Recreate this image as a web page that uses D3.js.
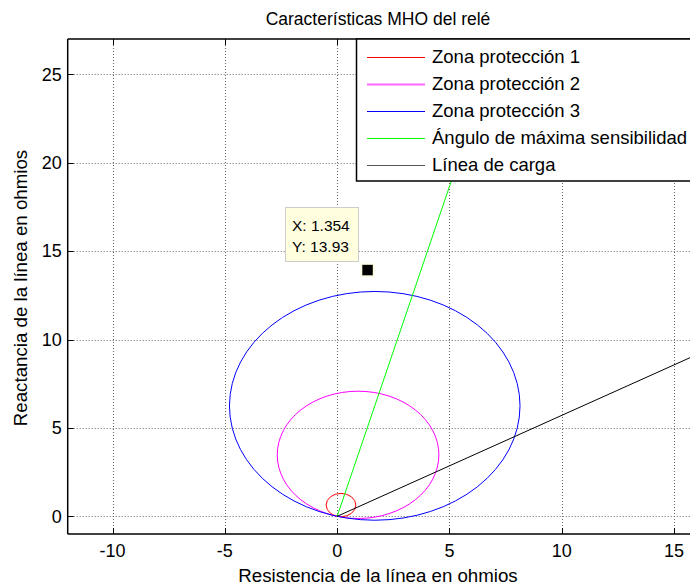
<!DOCTYPE html>
<html>
<head>
<meta charset="utf-8">
<script src="https://cdn.jsdelivr.net/npm/d3@7"></script>
<style>
  body { margin: 0; background: #fff; }
  svg { display: block; font-family: "Liberation Sans", Arial, sans-serif; }
</style>
</head>
<body>
<div id="chart"></div>
<script>
// MHO zones: diameter (ohm) along the angle of maximum sensitivity
let zoneNames = ["Zona protección 1", "Zona protección 2", "Zona protección 3"];
let zoneReach = [1.32, 7.2, 12.94];
let zoneColors = ["#ff0000", "#ff00ff", "#0000ff"];
let maxSensAngle = 75;

// straight lines, [R, X] points
let sensLine = [[0, 0], [7.4, 27.6]];
let loadLine = [[0, 0], [16.5, 9.42]];

let legendNames = ["Zona protección 1", "Zona protección 2", "Zona protección 3", "Ángulo de máxima sensibilidad", "Línea de carga"];
let legendColors = ["#ff0000", "#ff66ff", "#0000ff", "#00ff00", "#555555"];

let xTicks = [-10, -5, 0, 5, 10, 15];
let yTicks = [0, 5, 10, 15, 20, 25];

let dataTip = {x: 1.354, y: 13.93};

let width = 690, height = 585;
let pLeft = 67.7, pRight = 696.4, pTop = 39, pBottom = 534;

let x = d3.scaleLinear().domain([-12, 16]).range([pLeft, pRight]);
let y = d3.scaleLinear().domain([-1, 27]).range([pBottom, pTop]);

let svg = d3.select("#chart").append("svg")
  .attr("width", width)
  .attr("height", height);

svg.append("clipPath").attr("id", "plotclip")
  .append("rect")
  .attr("x", pLeft).attr("y", pTop)
  .attr("width", pRight - pLeft).attr("height", pBottom - pTop);

// grid
svg.append("g").selectAll("line")
  .data(xTicks).enter().append("line")
  .attr("x1", d => Math.round(x(d)) + 0.5).attr("x2", d => Math.round(x(d)) + 0.5)
  .attr("y1", pTop).attr("y2", pBottom)
  .attr("stroke", "#666").attr("stroke-dasharray", "1,2");

svg.append("g").selectAll("line")
  .data(yTicks).enter().append("line")
  .attr("y1", d => Math.round(y(d)) + 0.5).attr("y2", d => Math.round(y(d)) + 0.5)
  .attr("x1", pLeft).attr("x2", pRight)
  .attr("stroke", "#666").attr("stroke-dasharray", "1,2");

let plot = svg.append("g").attr("clip-path", "url(#plotclip)");

// zone circles (pass through origin)
let rad = maxSensAngle * Math.PI / 180;
plot.selectAll("ellipse")
  .data(zoneReach).enter().append("ellipse")
  .attr("cx", d => x(d / 2 * Math.cos(rad)))
  .attr("cy", d => y(d / 2 * Math.sin(rad)))
  .attr("rx", d => x(d / 2) - x(0))
  .attr("ry", d => y(0) - y(d / 2))
  .attr("fill", "none")
  .attr("stroke", (d, i) => zoneColors[i])
  .attr("stroke-width", 1);

let line = d3.line().x(d => x(d[0])).y(d => y(d[1]));

plot.append("path").datum(sensLine)
  .attr("d", line).attr("fill", "none").attr("stroke", "#00ff00");

plot.append("path").datum(loadLine)
  .attr("d", line).attr("fill", "none").attr("stroke", "#000");

// data tip marker
plot.append("rect")
  .attr("x", x(dataTip.x) - 6).attr("y", y(dataTip.y) - 6)
  .attr("width", 12).attr("height", 12)
  .attr("fill", "#000").attr("stroke", "#ffffe0").attr("stroke-width", 1.5);

// axes frame and ticks
let frame = svg.append("g");
frame.append("line").attr("x1", pLeft).attr("x2", pRight).attr("y1", pBottom).attr("y2", pBottom)
  .attr("stroke", "#000").attr("stroke-width", 1.5);
frame.append("line").attr("x1", pLeft).attr("x2", pRight).attr("y1", pTop).attr("y2", pTop)
  .attr("stroke", "#000").attr("stroke-width", 1.5);
frame.append("line").attr("x1", pLeft).attr("x2", pLeft).attr("y1", pTop).attr("y2", pBottom)
  .attr("stroke", "#000").attr("stroke-width", 1.5);

frame.selectAll(".xtb").data(xTicks).enter().append("line")
  .attr("x1", d => Math.round(x(d)) + 0.5).attr("x2", d => Math.round(x(d)) + 0.5)
  .attr("y1", pBottom).attr("y2", pBottom - 6).attr("stroke", "#000");
frame.selectAll(".xtt").data(xTicks).enter().append("line")
  .attr("x1", d => Math.round(x(d)) + 0.5).attr("x2", d => Math.round(x(d)) + 0.5)
  .attr("y1", pTop).attr("y2", pTop + 6).attr("stroke", "#000");
frame.selectAll(".ytl").data(yTicks).enter().append("line")
  .attr("y1", d => Math.round(y(d)) + 0.5).attr("y2", d => Math.round(y(d)) + 0.5)
  .attr("x1", pLeft).attr("x2", pLeft + 6).attr("stroke", "#000");

svg.append("g").selectAll("text")
  .data(xTicks).enter().append("text")
  .attr("x", d => x(d)).attr("y", 557)
  .attr("text-anchor", "middle")
  .style("font-size", "18px")
  .text(d => d);

svg.append("g").selectAll("text")
  .data(yTicks).enter().append("text")
  .attr("x", pLeft - 6).attr("y", d => y(d)).attr("dy", "0.35em")
  .attr("text-anchor", "end")
  .style("font-size", "18px")
  .text(d => d);

// titles
svg.append("text").attr("x", 378).attr("y", 25)
  .attr("text-anchor", "middle").style("font-size", "17.5px")
  .text("Características MHO del relé");
svg.append("text").attr("x", 378).attr("y", 582)
  .attr("text-anchor", "middle").style("font-size", "18.7px")
  .text("Resistencia de la línea en ohmios");
svg.append("text").attr("transform", "translate(27,288) rotate(-90)")
  .attr("text-anchor", "middle").style("font-size", "18.7px")
  .text("Reactancia de la línea en ohmios");

// legend
let legend = svg.append("g");
legend.append("rect")
  .attr("x", 356.5).attr("y", pTop).attr("width", 360).attr("height", 142)
  .attr("fill", "#fff").attr("stroke", "#000").attr("stroke-width", 1.5);

let item = legend.selectAll("g.item")
  .data(legendNames).enter().append("g")
  .attr("transform", (d, i) => "translate(0," + (57 + i * 27) + ")");
item.append("line")
  .attr("x1", 367).attr("x2", 425).attr("y1", 0.5).attr("y2", 0.5)
  .attr("stroke", (d, i) => legendColors[i])
  .attr("stroke-width", (d, i) => i == 1 ? 2 : 1);
item.append("text")
  .attr("x", 432).attr("dy", "0.35em")
  .style("font-size", "18.5px")
  .text(d => d);

// data tip box
let tip = svg.append("g");
tip.append("rect")
  .attr("x", 285.5).attr("y", 207.5).attr("width", 73).attr("height", 54)
  .attr("fill", "#ffffe0").attr("stroke", "#ccc");
tip.append("text").attr("x", 292).attr("y", 230.5).style("font-size", "15.5px")
  .text("X: " + dataTip.x);
tip.append("text").attr("x", 292).attr("y", 251.5).style("font-size", "15.5px")
  .text("Y: " + dataTip.y);
</script>
</body>
</html>
